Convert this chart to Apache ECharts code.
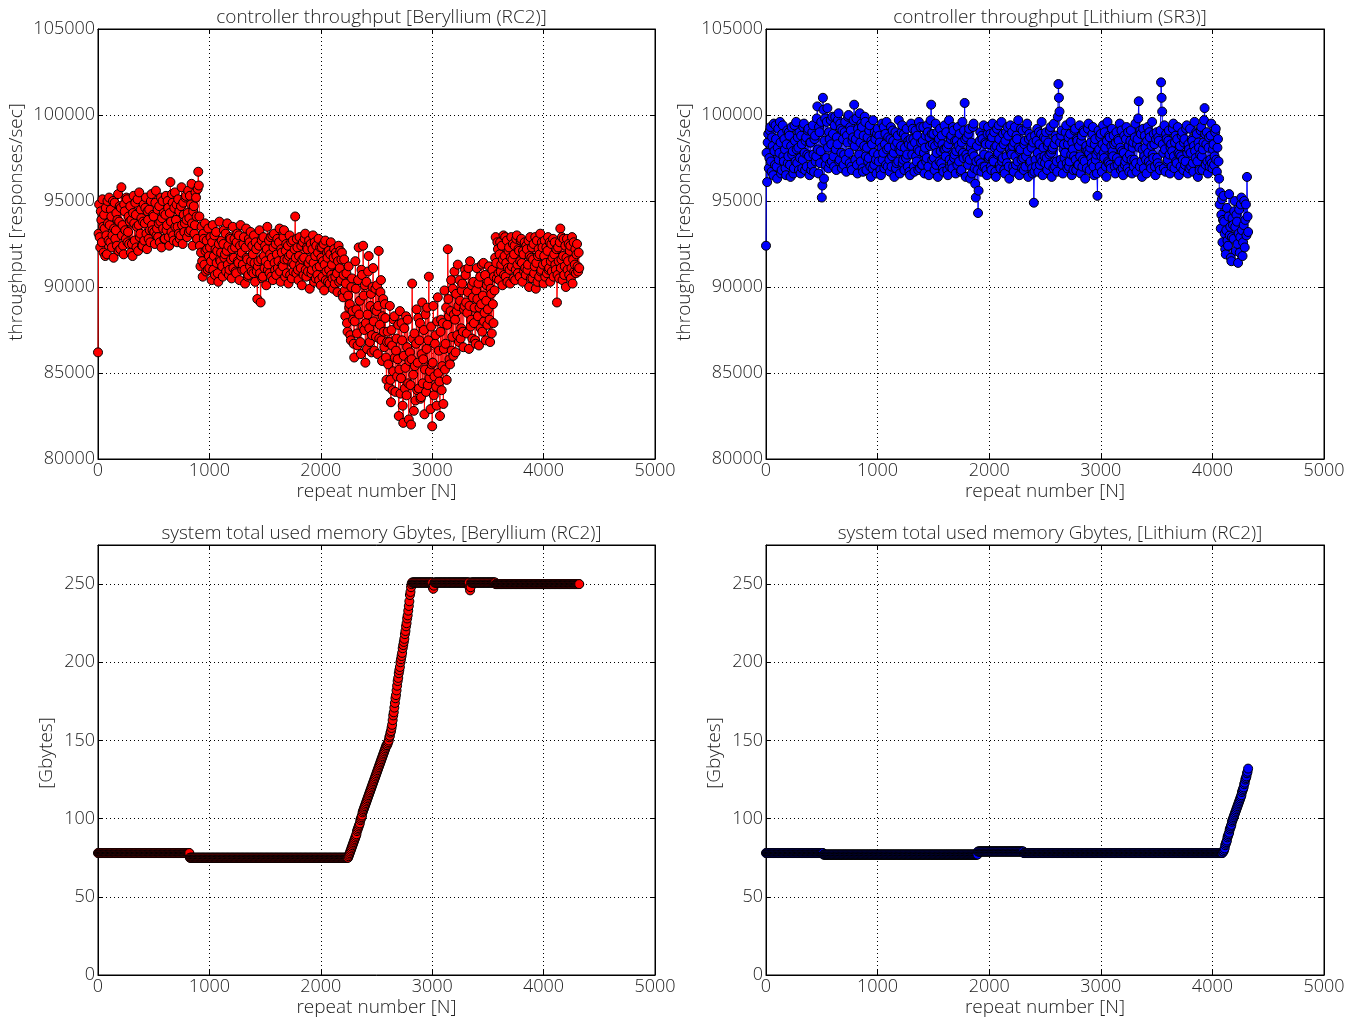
<!DOCTYPE html>
<html>
<head>
<meta charset="utf-8">
<script src="https://cdn.jsdelivr.net/npm/echarts@6/dist/echarts.min.js"></script>
<style>
html, body { margin: 0; padding: 0; background: #fff; }
#chart { width: 1359px; height: 1019px; }
</style>
</head>
<body>
<div id="chart"></div>
<script>
// one sample every 5 repeats (x = 0 .. 4320), 20 per row = 100 repeats per row
const STEP = 5;

const throughputBe = [
  86200, 93100, 94800, 92900, 92300, 94400, 93900, 92600, 95100, 93500, 92000, 94200, 93400, 91800, 94600, 93000, 91900, 95000, 93700, 92700,
  95200, 93600, 92600, 94500, 94100, 92300, 93000, 95000, 91700, 93400, 94900, 92800, 93300, 94300, 92400, 93900, 95400, 92100, 93800, 94700,
  92200, 94600, 95800, 93000, 93600, 92400, 91900, 94800, 94400, 93300, 92800, 95200, 95100, 92600, 93200, 94100, 92500, 93800, 94700, 92000,
  93900, 92500, 91800, 94300, 95300, 93700, 92700, 94900, 94200, 92300, 93500, 95100, 92100, 93600, 95500, 92900, 93100, 94500, 94000, 92400,
  92400, 93800, 94800, 92700, 93700, 94600, 95200, 93100, 92200, 94400, 93900, 92800, 94500, 93300, 92600, 95000, 95400, 93600, 93300, 94200,
  94100, 93200, 92500, 94900, 95600, 93000, 93400, 94500, 92900, 93700, 94700, 92600, 93800, 95200, 92300, 94000, 95000, 93400, 94300, 92800,
  92800, 94200, 95300, 93300, 93600, 95000, 94600, 92900, 92400, 94300, 96100, 93800, 93200, 95400, 94900, 93000, 92700, 94600, 95500, 93500,
  93900, 94800, 92600, 93500, 95100, 93100, 94400, 92800, 93000, 94700, 95800, 93600, 92500, 94900, 94200, 93200, 93700, 95200, 95300, 93900,
  92900, 94300, 95600, 93200, 94000, 95300, 93300, 94800, 96000, 93700, 92400, 94400, 94700, 93100, 93600, 95500, 95200, 94100, 92800, 95700,
  96700, 95900, 94100, 92400, 91200, 92000, 93500, 91500, 90600, 93100, 92800, 91300, 93700, 92100, 90900, 92700, 92200, 91000, 93400, 91800,
  91100, 92300, 92900, 91500, 90400, 92600, 93600, 91000, 91800, 93000, 90700, 92200, 93200, 91400, 92100, 90800, 90300, 92500, 93800, 91600,
  91500, 92000, 92700, 91200, 90600, 92500, 93300, 91700, 91900, 93100, 90900, 92100, 93700, 91300, 92400, 90700, 91000, 92900, 92800, 91600,
  90500, 92200, 93500, 91100, 91700, 92800, 92300, 90900, 90800, 92600, 93100, 91500, 91400, 93000, 90400, 92400, 93600, 91800, 92000, 91000,
  91300, 92500, 92900, 91000, 90200, 92300, 93400, 91700, 91600, 90600, 90700, 92800, 92600, 91200, 93200, 91500, 90900, 92400, 91900, 90800,
  93000, 91400, 90300, 92600, 92200, 90900, 89300, 91200, 91500, 92400, 93300, 90800, 89100, 91600, 92700, 90500, 90600, 92900, 91800, 91100,
  92400, 91500, 90100, 92200, 93500, 91000, 91300, 92700, 90800, 91900, 92900, 90600, 91700, 93000, 90400, 92300, 93100, 91400, 91000, 92500,
  90700, 91900, 92800, 91100, 91500, 92600, 93400, 90900, 90300, 92200, 92000, 91300, 91200, 92900, 93300, 91600, 90600, 92100, 92500, 90800,
  91600, 92400, 90200, 91800, 93000, 90700, 91900, 92600, 90500, 91400, 92700, 90900, 91300, 92200, 94100, 91700, 90800, 92800, 92300, 91000,
  90400, 91800, 92900, 91300, 91100, 92400, 90100, 91600, 92600, 90700, 91700, 92800, 93100, 91000, 90600, 92300, 92200, 90900, 91400, 92700,
  89900, 91600, 92500, 90800, 91000, 92200, 93000, 91400, 90300, 92600, 91800, 90500, 92400, 91100, 90700, 92000, 92800, 90400, 91200, 92300,
  90100, 91700, 92300, 90600, 91500, 92500, 89800, 91300, 92700, 90400, 90900, 92000, 91700, 90300, 92100, 91000, 90200, 91900, 92600, 90700,
  91300, 90500, 89900, 91700, 92200, 90200, 90600, 92000, 91800, 90800, 89700, 91500, 92400, 90300, 91100, 92100, 90400, 91600, 92000, 89600,
  89400, 90700, 91600, 89800, 88300, 90200, 90800, 87900, 87400, 89500, 91200, 88800, 89000, 87200, 86900, 90000, 90500, 88600, 88100, 86700,
  85900, 88000, 91500, 89900, 88700, 87300, 86600, 90400, 92300, 88400, 89200, 86800, 86100, 91000, 90700, 87700, 92400, 89500, 87500, 90100,
  85600, 87900, 90300, 86400, 88400, 90900, 91800, 87600, 86800, 88900, 89600, 86200, 87200, 90000, 91100, 88000, 86300, 88700, 89900, 87100,
  88600, 90100, 86100, 88900, 92100, 87000, 87800, 89700, 90400, 86900, 85700, 88300, 89300, 87400, 86500, 89000, 88200, 85900, 84600, 86800,
  87400, 85500, 84200, 86800, 88900, 84600, 83300, 87500, 86600, 84000, 85100, 88100, 88300, 85900, 83900, 86300, 87000, 84800, 85800, 87800,
  82500, 85200, 88600, 83800, 84700, 87900, 86900, 83100, 82100, 86000, 87600, 84100, 85300, 88300, 83700, 86500, 88100, 84400, 82300, 85700,
  86200, 84300, 82000, 85800, 90200, 87000, 84900, 82800, 87300, 85400, 83400, 86700, 88700, 84000, 85600, 88200, 84100, 86900, 87900, 83500,
  83600, 86100, 89100, 84400, 85800, 87500, 82600, 85200, 88400, 83900, 86400, 88800, 84300, 86900, 90600, 84700, 85100, 82900, 87700, 85500,
  81900, 85600, 88900, 83700, 84800, 86700, 87200, 84200, 83100, 88000, 89400, 85000, 86300, 84500, 82500, 87400, 88100, 84000, 85400, 87900,
  83200, 86400, 89800, 85200, 86700, 88800, 84600, 87800, 92200, 89300, 88300, 85800, 85500, 88600, 90400, 86300, 87100, 89900, 86000, 88400,
  90900, 88100, 86200, 89600, 88600, 87200, 91300, 88900, 86800, 90400, 89200, 87000, 87600, 89800, 90200, 87400, 86500, 88700, 88900, 91000,
  90700, 89100, 87300, 88500, 89700, 91100, 86400, 88900, 91500, 87700, 88100, 90100, 87000, 89400, 90300, 87900, 88800, 86900, 86700, 89800,
  91100, 89300, 88300, 90200, 86600, 88800, 90600, 87600, 89000, 91300, 87400, 89500, 91400, 88000, 88500, 90700, 86900, 89200, 90100, 87800,
  88700, 90300, 91200, 88100, 86800, 89900, 89600, 87300, 91000, 89000, 87900, 90600, 89800, 91700, 92900, 91400, 90500, 92600, 92200, 90800,
  90400, 91900, 92600, 90900, 91300, 92400, 90100, 91600, 93000, 90700, 91800, 92900, 90600, 91400, 92700, 90300, 91100, 92100, 92300, 91000,
  90200, 91700, 92900, 91200, 91600, 92500, 90500, 91900, 92400, 90400, 91000, 92800, 93000, 91300, 90800, 92200, 92100, 90600, 91500, 92700,
  92800, 91400, 90300, 92100, 91900, 90900, 92600, 91100, 90700, 92400, 92200, 91000, 91300, 92700, 90000, 91800, 92900, 90500, 91700, 92300,
  90500, 91600, 92500, 90800, 91200, 92900, 89900, 91400, 92700, 90300, 91800, 92200, 90600, 91900, 93100, 90900, 91000, 92600, 92300, 91300,
  90200, 91800, 92700, 90600, 91400, 92300, 90800, 92100, 92900, 91000, 91100, 92600, 90300, 91500, 92500, 90900, 91700, 92800, 90600, 91900,
  92600, 91300, 91000, 92200, 89100, 90700, 92300, 91500, 90500, 92600, 93400, 91100, 91600, 92900, 90400, 91800, 92800, 90700, 91200, 92400,
  90000, 91700, 92800, 91000, 91500, 92500, 90700, 92100, 92400, 90500, 91100, 92900, 90200, 91600, 92600, 90900, 91300, 92200, 90800, 91900,
  92500, 91200, 90900, 92000, 91100
];

const throughputLi = [
  92400, 97800, 96100, 98400, 98900, 96900, 97500, 99100, 99300, 97300, 96700, 98700, 98200, 96500, 99500, 97900, 97100, 99400, 98600, 97000,
  96300, 98100, 99200, 97400, 97800, 99600, 98400, 96600, 96800, 98900, 99400, 97600, 97300, 98600, 98000, 96900, 96500, 98300, 99100, 97200,
  97600, 99000, 98800, 97100, 96400, 98200, 99300, 97700, 97900, 96600, 96900, 99400, 98500, 97300, 99600, 98000, 97200, 98700, 98100, 96800,
  99000, 97500, 96600, 98800, 98300, 96900, 97400, 99300, 99500, 97800, 96800, 98500, 98700, 97000, 97700, 99100, 99200, 97600, 96500, 98400,
  98400, 96800, 97100, 99000, 99400, 97700, 96700, 98600, 98800, 97300, 97600, 99800, 100500, 98000, 96600, 99300, 99000, 97200, 97900, 99600,
  95200, 95900, 101000, 100300, 96300, 98500, 99800, 97100, 97500, 99600, 100400, 98100, 96900, 99000, 98600, 97200, 99700, 98300, 97300, 99900,
  98900, 97600, 97000, 99400, 99900, 98000, 96800, 98700, 98300, 99700, 100100, 97300, 97400, 99500, 99200, 97800, 96900, 99100, 98600, 97100,
  97700, 99000, 99600, 97400, 96700, 98800, 98400, 99900, 100000, 97800, 97200, 99300, 99100, 97000, 96800, 98500, 98700, 99700, 100600, 98200,
  97400, 98600, 99800, 97100, 96600, 99200, 98900, 97700, 100100, 98400, 97300, 99500, 99300, 96900, 96700, 98800, 98200, 99900, 99600, 97600,
  96800, 98100, 98700, 97300, 97500, 99100, 99400, 97000, 96400, 98500, 98300, 96900, 99700, 97800, 97100, 99000, 98600, 97400, 96600, 98900,
  99200, 97700, 97300, 98800, 98400, 96800, 96500, 98100, 99500, 97400, 97800, 99300, 96900, 98300, 98900, 97100, 99600, 98000, 97000, 98700,
  98100, 97400, 96700, 98600, 99300, 97000, 97600, 99100, 98500, 97800, 96400, 98200, 99000, 96900, 97200, 98400, 98800, 97300, 99700, 98000,
  96600, 97900, 98200, 99000, 99400, 97200, 97400, 98900, 96800, 98100, 98700, 97500, 99200, 97700, 97000, 98500, 98300, 96700, 96500, 98600,
  99500, 98200, 97700, 99200, 98600, 97000, 96700, 98400, 99100, 97600, 97300, 98800, 98000, 96800, 99600, 97900, 96900, 99300, 98400, 97100,
  97100, 98500, 99300, 97800, 96600, 98100, 98800, 97300, 97500, 99400, 99000, 97000, 96500, 98700, 98200, 99700, 100600, 98900, 97400, 98300,
  98900, 97500, 96800, 98200, 99500, 97100, 97800, 99000, 96400, 98400, 98600, 97300, 99200, 97900, 97200, 98800, 98300, 96900, 96700, 98000,
  99400, 98000, 97600, 99000, 98100, 96800, 96500, 98300, 99700, 97400, 97000, 98600, 98800, 97200, 96900, 99300, 99100, 97500, 97700, 98500,
  96600, 97900, 98500, 97100, 99300, 98200, 97300, 98900, 98000, 96700, 96800, 98400, 99600, 97800, 97500, 99100, 100700, 98600, 96400, 97700,
  98700, 97500, 97100, 98900, 99200, 97400, 96300, 98100, 98400, 96600, 97800, 99300, 99500, 97600, 96900, 96000, 95200, 97300, 98200, 96800,
  94300, 95600, 97400, 98500, 99000, 97200, 96700, 98800, 98600, 97000, 99400, 97700, 97000, 98400, 98300, 96800, 96500, 98900, 99300, 97500,
  97600, 98300, 98900, 97000, 96800, 98700, 99500, 97400, 97300, 99000, 98100, 96700, 96400, 98200, 99200, 97700, 97800, 99400, 98600, 97100,
  96900, 98100, 99600, 97300, 97500, 98900, 98300, 96800, 96600, 98500, 99000, 97600, 97200, 99300, 98800, 97000, 96300, 98000, 99400, 97800,
  97700, 99000, 98200, 97000, 96700, 98400, 99300, 97600, 97100, 98800, 98600, 97300, 99700, 98100, 96500, 97900, 98000, 99200, 97400, 96900,
  99100, 97500, 96800, 98300, 98500, 97000, 97600, 99200, 99500, 97900, 96400, 98600, 98900, 97200, 97300, 98700, 98100, 96900, 96600, 98400,
  94900, 96700, 98800, 97400, 97000, 98500, 99200, 97800, 96700, 99000, 98300, 97100, 97500, 98900, 99600, 97300, 96500, 98100, 98700, 97600,
  97200, 98600, 99000, 97500, 96800, 98200, 98400, 97100, 97700, 99100, 99300, 97800, 96400, 98000, 98100, 96900, 99500, 98300, 97000, 98800,
  98600, 97300, 96700, 99900, 101800, 101000, 100200, 98400, 97400, 98800, 99100, 97100, 96600, 98000, 98300, 97500, 97800, 99000, 99400, 97200,
  96900, 98300, 98700, 97000, 97300, 98900, 99600, 97700, 96500, 98400, 98000, 96800, 97600, 99100, 99200, 97400, 96800, 98600, 98500, 97100,
  97100, 98200, 99400, 97600, 96600, 98500, 98800, 97000, 97400, 99100, 99000, 97300, 96300, 98000, 98200, 96900, 97900, 99200, 99500, 97800,
  96800, 98100, 98400, 97500, 97200, 98900, 99300, 97000, 96500, 98300, 98600, 97400, 97700, 96600, 95300, 97900, 99100, 98000, 97000, 98700,
  98900, 97600, 96700, 98300, 99400, 97800, 97500, 99000, 98100, 97000, 96400, 98500, 99600, 97300, 97200, 98800, 98700, 97100, 96900, 98200,
  99200, 97900, 97600, 98800, 98300, 97000, 96600, 98400, 99000, 97500, 97100, 98600, 98500, 97300, 99500, 98100, 96800, 99100, 97900, 96900,
  96500, 97800, 98800, 97100, 97300, 98600, 99300, 97500, 96900, 99000, 98200, 96700, 97700, 98500, 99100, 97400, 96600, 98100, 98400, 97000,
  97400, 98700, 99500, 97200, 96700, 98300, 98600, 99800, 100800, 98100, 97000, 99100, 98900, 97300, 96400, 98000, 99200, 96900, 97600, 98800,
  98100, 97400, 96600, 98500, 99300, 97800, 97300, 99000, 98700, 97100, 96900, 98200, 99600, 97700, 97500, 98900, 98300, 97000, 96500, 98600,
  99000, 97500, 97200, 98700, 98500, 97000, 96800, 99100, 101900, 101000, 100200, 98300, 97800, 96900, 99400, 98000, 96700, 98900, 98600, 97300,
  97400, 98500, 99100, 97700, 96600, 98100, 98300, 97000, 97900, 99200, 99500, 97600, 96900, 98400, 98800, 97300, 97200, 98600, 99300, 97800,
  96500, 97700, 98200, 97000, 97600, 98800, 99000, 97400, 96800, 98400, 98600, 97100, 97300, 99200, 99400, 97800, 96600, 98300, 98000, 96900,
  99200, 97800, 97000, 98600, 98500, 97200, 96700, 98200, 99600, 97900, 97500, 99000, 98900, 97300, 96400, 98400, 98100, 96800, 97700, 99100,
  99300, 97600, 96800, 98000, 98400, 99700, 100400, 98900, 97100, 98300, 99000, 97300, 96600, 98100, 98700, 97000, 97400, 98800, 99500, 97200,
  96900, 98000, 98300, 97100, 97600, 99000, 99200, 97400, 96700, 98100, 98600, 97300, 96300, 94800, 95500, 93400, 94200, 95100, 92600, 93900,
  95300, 93800, 93100, 92200, 91900, 93300, 94600, 92700, 92400, 94100, 95400, 93000, 93500, 91700, 91500, 92900, 94000, 93600, 92800, 94400,
  95000, 93500, 92100, 94200, 93800, 92500, 91400, 93100, 94500, 92000, 92900, 94800, 95200, 93300, 91800, 92600, 93600, 95000, 92300, 93900,
  94800, 93000, 96400, 94100, 93200
];

const memoryBe = [
  78, 78, 78, 78, 78, 78, 78, 78, 78, 78, 78, 78, 78, 78, 78, 78, 78, 78, 78, 78,
  78, 78, 78, 78, 78, 78, 78, 78, 78, 78, 78, 78, 78, 78, 78, 78, 78, 78, 78, 78,
  78, 78, 78, 78, 78, 78, 78, 78, 78, 78, 78, 78, 78, 78, 78, 78, 78, 78, 78, 78,
  78, 78, 78, 78, 78, 78, 78, 78, 78, 78, 78, 78, 78, 78, 78, 78, 78, 78, 78, 78,
  78, 78, 78, 78, 78, 78, 78, 78, 78, 78, 78, 78, 78, 78, 78, 78, 78, 78, 78, 78,
  78, 78, 78, 78, 78, 78, 78, 78, 78, 78, 78, 78, 78, 78, 78, 78, 78, 78, 78, 78,
  78, 78, 78, 78, 78, 78, 78, 78, 78, 78, 78, 78, 78, 78, 78, 78, 78, 78, 78, 78,
  78, 78, 78, 78, 78, 78, 78, 78, 78, 78, 78, 78, 78, 78, 78, 78, 78, 78, 78, 78,
  78, 78, 78, 78, 78, 75, 75, 75, 75, 75, 75, 75, 75, 75, 75, 75, 75, 75, 75, 75,
  75, 75, 75, 75, 75, 75, 75, 75, 75, 75, 75, 75, 75, 75, 75, 75, 75, 75, 75, 75,
  75, 75, 75, 75, 75, 75, 75, 75, 75, 75, 75, 75, 75, 75, 75, 75, 75, 75, 75, 75,
  75, 75, 75, 75, 75, 75, 75, 75, 75, 75, 75, 75, 75, 75, 75, 75, 75, 75, 75, 75,
  75, 75, 75, 75, 75, 75, 75, 75, 75, 75, 75, 75, 75, 75, 75, 75, 75, 75, 75, 75,
  75, 75, 75, 75, 75, 75, 75, 75, 75, 75, 75, 75, 75, 75, 75, 75, 75, 75, 75, 75,
  75, 75, 75, 75, 75, 75, 75, 75, 75, 75, 75, 75, 75, 75, 75, 75, 75, 75, 75, 75,
  75, 75, 75, 75, 75, 75, 75, 75, 75, 75, 75, 75, 75, 75, 75, 75, 75, 75, 75, 75,
  75, 75, 75, 75, 75, 75, 75, 75, 75, 75, 75, 75, 75, 75, 75, 75, 75, 75, 75, 75,
  75, 75, 75, 75, 75, 75, 75, 75, 75, 75, 75, 75, 75, 75, 75, 75, 75, 75, 75, 75,
  75, 75, 75, 75, 75, 75, 75, 75, 75, 75, 75, 75, 75, 75, 75, 75, 75, 75, 75, 75,
  75, 75, 75, 75, 75, 75, 75, 75, 75, 75, 75, 75, 75, 75, 75, 75, 75, 75, 75, 75,
  75, 75, 75, 75, 75, 75, 75, 75, 75, 75, 75, 75, 75, 75, 75, 75, 75, 75, 75, 75,
  75, 75, 75, 75, 75, 75, 75, 75, 75, 75, 75, 75, 75, 75, 75, 75, 75, 75, 75, 75,
  75, 75, 75, 75, 75, 75, 75, 75, 75, 75, 76, 77, 78, 79, 80, 81, 82, 83, 84, 85,
  86, 87, 88, 89, 90, 92, 93, 94, 95, 96, 97, 99, 100, 101, 102, 104, 105, 106, 107, 108,
  109, 110, 111, 112, 113, 114, 115, 116, 117, 118, 119, 120, 121, 122, 123, 124, 125, 126, 127, 128,
  129, 130, 131, 132, 133, 134, 135, 136, 137, 138, 139, 140, 141, 142, 143, 144, 145, 146, 147, 147,
  148, 149, 150, 152, 153, 155, 156, 158, 160, 163, 166, 168, 171, 174, 177, 179, 182, 185, 188, 190,
  193, 195, 197, 200, 202, 204, 206, 209, 211, 213, 215, 218, 220, 223, 225, 228, 230, 233, 236, 239,
  243, 245, 248, 250, 251, 251, 251, 251, 251, 251, 251, 251, 251, 251, 251, 251, 251, 251, 251, 251,
  251, 251, 251, 251, 251, 251, 251, 251, 251, 251, 251, 251, 251, 251, 251, 251, 251, 251, 251, 251,
  251, 248, 247, 249, 251, 251, 251, 251, 251, 251, 251, 251, 251, 251, 251, 251, 251, 251, 251, 251,
  251, 251, 251, 251, 251, 251, 251, 251, 251, 251, 251, 251, 251, 251, 251, 251, 251, 251, 251, 251,
  251, 251, 251, 251, 251, 251, 251, 251, 251, 251, 251, 251, 251, 251, 251, 251, 251, 251, 251, 251,
  251, 251, 251, 251, 251, 251, 251, 248, 246, 248, 251, 251, 251, 251, 251, 251, 251, 251, 251, 251,
  251, 251, 251, 251, 251, 251, 251, 251, 251, 251, 251, 251, 251, 251, 251, 251, 251, 251, 251, 251,
  251, 251, 251, 251, 251, 251, 251, 251, 251, 251, 251, 251, 251, 251, 250, 250, 250, 250, 250, 250,
  250, 250, 250, 250, 250, 250, 250, 250, 250, 250, 250, 250, 250, 250, 250, 250, 250, 250, 250, 250,
  250, 250, 250, 250, 250, 250, 250, 250, 250, 250, 250, 250, 250, 250, 250, 250, 250, 250, 250, 250,
  250, 250, 250, 250, 250, 250, 250, 250, 250, 250, 250, 250, 250, 250, 250, 250, 250, 250, 250, 250,
  250, 250, 250, 250, 250, 250, 250, 250, 250, 250, 250, 250, 250, 250, 250, 250, 250, 250, 250, 250,
  250, 250, 250, 250, 250, 250, 250, 250, 250, 250, 250, 250, 250, 250, 250, 250, 250, 250, 250, 250,
  250, 250, 250, 250, 250, 250, 250, 250, 250, 250, 250, 250, 250, 250, 250, 250, 250, 250, 250, 250,
  250, 250, 250, 250, 250, 250, 250, 250, 250, 250, 250, 250, 250, 250, 250, 250, 250, 250, 250, 250,
  250, 250, 250, 250, 250
];

const memoryLi = [
  // 0 - 495
  78, 78, 78, 78, 78, 78, 78, 78, 78, 78, 78, 78, 78, 78, 78, 78, 78, 78, 78, 78,
  78, 78, 78, 78, 78, 78, 78, 78, 78, 78, 78, 78, 78, 78, 78, 78, 78, 78, 78, 78,
  78, 78, 78, 78, 78, 78, 78, 78, 78, 78, 78, 78, 78, 78, 78, 78, 78, 78, 78, 78,
  78, 78, 78, 78, 78, 78, 78, 78, 78, 78, 78, 78, 78, 78, 78, 78, 78, 78, 78, 78,
  78, 78, 78, 78, 78, 78, 78, 78, 78, 78, 78, 78, 78, 78, 78, 78, 78, 78, 78, 78,
  // 500 - 1895
  78, 78, 78, 77, 77, 77, 77, 77, 77, 77, 77, 77, 77, 77, 77, 77, 77, 77, 77, 77,
  77, 77, 77, 77, 77, 77, 77, 77, 77, 77, 77, 77, 77, 77, 77, 77, 77, 77, 77, 77,
  77, 77, 77, 77, 77, 77, 77, 77, 77, 77, 77, 77, 77, 77, 77, 77, 77, 77, 77, 77,
  77, 77, 77, 77, 77, 77, 77, 77, 77, 77, 77, 77, 77, 77, 77, 77, 77, 77, 77, 77,
  77, 77, 77, 77, 77, 77, 77, 77, 77, 77, 77, 77, 77, 77, 77, 77, 77, 77, 77, 77,
  77, 77, 77, 77, 77, 77, 77, 77, 77, 77, 77, 77, 77, 77, 77, 77, 77, 77, 77, 77,
  77, 77, 77, 77, 77, 77, 77, 77, 77, 77, 77, 77, 77, 77, 77, 77, 77, 77, 77, 77,
  77, 77, 77, 77, 77, 77, 77, 77, 77, 77, 77, 77, 77, 77, 77, 77, 77, 77, 77, 77,
  77, 77, 77, 77, 77, 77, 77, 77, 77, 77, 77, 77, 77, 77, 77, 77, 77, 77, 77, 77,
  77, 77, 77, 77, 77, 77, 77, 77, 77, 77, 77, 77, 77, 77, 77, 77, 77, 77, 77, 77,
  77, 77, 77, 77, 77, 77, 77, 77, 77, 77, 77, 77, 77, 77, 77, 77, 77, 77, 77, 77,
  77, 77, 77, 77, 77, 77, 77, 77, 77, 77, 77, 77, 77, 77, 77, 77, 77, 77, 77, 77,
  77, 77, 77, 77, 77, 77, 77, 77, 77, 77, 77, 77, 77, 77, 77, 77, 77, 77, 77, 77,
  77, 77, 77, 77, 77, 77, 77, 77, 77, 77, 77, 77, 77, 77, 77, 77, 77, 77, 77, 77,
  // 1900 - 2395
  79, 79, 79, 79, 79, 79, 79, 79, 79, 79, 79, 79, 79, 79, 79, 79, 79, 79, 79, 79,
  79, 79, 79, 79, 79, 79, 79, 79, 79, 79, 79, 79, 79, 79, 79, 79, 79, 79, 79, 79,
  79, 79, 79, 79, 79, 79, 79, 79, 79, 79, 79, 79, 79, 79, 79, 79, 79, 79, 79, 79,
  79, 79, 79, 79, 79, 79, 79, 79, 79, 79, 79, 79, 79, 79, 79, 79, 79, 79, 79, 79,
  79, 79, 78, 78, 78, 78, 78, 78, 78, 78, 78, 78, 78, 78, 78, 78, 78, 78, 78, 78,
  // 2400 - 3995
  78, 78, 78, 78, 78, 78, 78, 78, 78, 78, 78, 78, 78, 78, 78, 78, 78, 78, 78, 78,
  78, 78, 78, 78, 78, 78, 78, 78, 78, 78, 78, 78, 78, 78, 78, 78, 78, 78, 78, 78,
  78, 78, 78, 78, 78, 78, 78, 78, 78, 78, 78, 78, 78, 78, 78, 78, 78, 78, 78, 78,
  78, 78, 78, 78, 78, 78, 78, 78, 78, 78, 78, 78, 78, 78, 78, 78, 78, 78, 78, 78,
  78, 78, 78, 78, 78, 78, 78, 78, 78, 78, 78, 78, 78, 78, 78, 78, 78, 78, 78, 78,
  78, 78, 78, 78, 78, 78, 78, 78, 78, 78, 78, 78, 78, 78, 78, 78, 78, 78, 78, 78,
  78, 78, 78, 78, 78, 78, 78, 78, 78, 78, 78, 78, 78, 78, 78, 78, 78, 78, 78, 78,
  78, 78, 78, 78, 78, 78, 78, 78, 78, 78, 78, 78, 78, 78, 78, 78, 78, 78, 78, 78,
  78, 78, 78, 78, 78, 78, 78, 78, 78, 78, 78, 78, 78, 78, 78, 78, 78, 78, 78, 78,
  78, 78, 78, 78, 78, 78, 78, 78, 78, 78, 78, 78, 78, 78, 78, 78, 78, 78, 78, 78,
  78, 78, 78, 78, 78, 78, 78, 78, 78, 78, 78, 78, 78, 78, 78, 78, 78, 78, 78, 78,
  78, 78, 78, 78, 78, 78, 78, 78, 78, 78, 78, 78, 78, 78, 78, 78, 78, 78, 78, 78,
  78, 78, 78, 78, 78, 78, 78, 78, 78, 78, 78, 78, 78, 78, 78, 78, 78, 78, 78, 78,
  78, 78, 78, 78, 78, 78, 78, 78, 78, 78, 78, 78, 78, 78, 78, 78, 78, 78, 78, 78,
  78, 78, 78, 78, 78, 78, 78, 78, 78, 78, 78, 78, 78, 78, 78, 78, 78, 78, 78, 78,
  78, 78, 78, 78, 78, 78, 78, 78, 78, 78, 78, 78, 78, 78, 78, 78, 78, 78, 78, 78,
  // 4000 - 4320
  78, 78, 78, 78, 78, 78, 78, 78, 78, 78, 78, 78, 78, 78, 78, 78, 78, 78, 78, 79,
  79, 80, 81, 83, 84, 85, 86, 88, 89, 90, 91, 93, 94, 95, 96, 98, 99, 100, 101, 102,
  103, 104, 105, 106, 107, 108, 109, 110, 111, 112, 113, 114, 115, 117, 118, 119, 120, 122, 123, 125,
  126, 127, 129, 130, 132
];

const titles = [
  'controller throughput [Beryllium (RC2)]',
  'controller throughput [Lithium (SR3)]',
  'system total used memory Gbytes, [Beryllium (RC2)]',
  'system total used memory Gbytes, [Lithium (RC2)]'
];

const FONT = '"Open Sans", "DejaVu Sans", sans-serif';
const TXT = '#222';

let grids = [
  { left: 98, top: 29, width: 557, height: 430 },
  { left: 766, top: 29, width: 558, height: 430 },
  { left: 98, top: 545, width: 557, height: 430 },
  { left: 766, top: 545, width: 558, height: 430 }
];

function toPairs(arr) {
  return arr.map((v, i) => [i * STEP, v]);
}

let dotted = { color: '#000', width: 1, type: [1, 3] };
let plain = v => String(v);
let blackLine = { show: true, onZero: false, lineStyle: { color: '#000', width: 1 } };
let inTick = { show: true, inside: true, length: 5, lineStyle: { color: '#000' } };

let xAxis = [];
let yAxis = [];
grids.forEach((g, i) => {
  let top = i < 2;
  xAxis.push({
    type: 'value', gridIndex: i, min: 0, max: 5000, interval: 1000,
    name: 'repeat number [N]', nameLocation: 'middle', nameGap: 23,
    nameTextStyle: { fontSize: 19, color: TXT, fontFamily: FONT, fontWeight: 300 },
    axisLine: blackLine, axisTick: inTick,
    axisLabel: { fontSize: 18, color: TXT, fontFamily: FONT, fontWeight: 300, margin: 3, formatter: plain },
    splitLine: { show: true, lineStyle: dotted }
  });
  yAxis.push({
    type: 'value', gridIndex: i,
    min: top ? 80000 : 0, max: top ? 105000 : 275, interval: top ? 5000 : 50,
    axisLine: blackLine, axisTick: inTick,
    axisLabel: { fontSize: 18, color: TXT, fontFamily: FONT, fontWeight: 300, margin: 3, showMaxLabel: top, formatter: plain },
    splitLine: { show: true, lineStyle: dotted }
  });
});
// ticks on the top and right spines as well
grids.forEach((g, i) => {
  let top = i < 2;
  xAxis.push({
    type: 'value', gridIndex: i, position: 'top', min: 0, max: 5000, interval: 1000,
    axisLine: blackLine, axisTick: inTick, axisLabel: { show: false }, splitLine: { show: false }
  });
  yAxis.push({
    type: 'value', gridIndex: i, position: 'right',
    min: top ? 80000 : 0, max: top ? 105000 : 275, interval: top ? 5000 : 50,
    axisLine: blackLine, axisTick: inTick, axisLabel: { show: false }, splitLine: { show: false }
  });
});

function mkSeries(data, idx, color) {
  return {
    type: 'line', xAxisIndex: idx, yAxisIndex: idx,
    data: toPairs(data),
    symbol: 'circle', symbolSize: 9, showSymbol: true, showAllSymbol: true,
    itemStyle: { color: color, borderColor: '#000', borderWidth: 1 },
    lineStyle: { color: color, width: 1 },
    emphasis: { disabled: true },
    animation: false
  };
}

let yNames = [
  { text: 'throughput [responses/sec]', x: 17, y: 222 },
  { text: 'throughput [responses/sec]', x: 685, y: 222 },
  { text: '[Gbytes]', x: 47, y: 753 },
  { text: '[Gbytes]', x: 715, y: 753 }
];

let option = {
  backgroundColor: '#fff',
  animation: false,
  title: titles.map((t, i) => ({
    text: t,
    left: grids[i].left + grids[i].width / 2,
    top: grids[i].top - 26,
    textAlign: 'center',
    textStyle: { fontSize: 19, color: TXT, fontFamily: FONT, fontWeight: 300 }
  })),
  grid: grids.map(g => Object.assign({ show: true, borderColor: '#000', borderWidth: 1, backgroundColor: 'transparent' }, g)),
  xAxis: xAxis,
  yAxis: yAxis,
  graphic: yNames.map(n => ({
    type: 'text', x: n.x, y: n.y, rotation: Math.PI / 2,
    style: { text: n.text, fontSize: 19, fill: TXT, fontFamily: FONT, fontWeight: 300, textAlign: 'center', textVerticalAlign: 'middle' }
  })),
  series: [
    mkSeries(throughputBe, 0, '#ff0000'),
    mkSeries(throughputLi, 1, '#0000ff'),
    mkSeries(memoryBe, 2, '#ff0000'),
    mkSeries(memoryLi, 3, '#0000ff')
  ]
};

let myChart = echarts.init(document.getElementById('chart'));
myChart.setOption(option);
</script>
</body>
</html>
